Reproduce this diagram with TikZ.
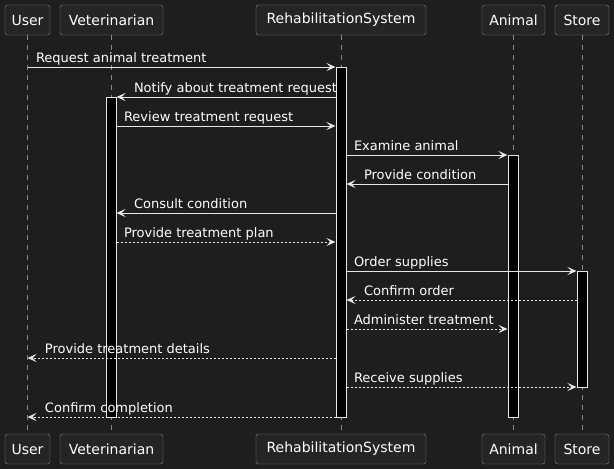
\documentclass[tikz,border=0pt]{standalone}
\usepackage{fontspec}
\setmainfont{DejaVu Sans}
\usetikzlibrary{arrows.meta}
\definecolor{bgcol}{HTML}{1E1E1E}
\definecolor{boxcol}{HTML}{252525}
\definecolor{edgecol}{HTML}{8A8A8A}
\definecolor{linecol}{HTML}{E6E6E6}
\tikzset{
	part/.style = {draw = edgecol, fill = boxcol, rounded corners = 2.5pt, minimum height = 30pt, inner sep = 0pt, text = white, font = \fontsize{14}{16}\selectfont},
	life/.style = {draw = edgecol, dash pattern = on 5pt off 5pt, line width = 0.6pt},
	act/.style = {draw = linecol, fill = black, minimum width = 10pt, inner sep = 0pt, anchor = north, line width = 1pt},
	msg/.style = {draw = linecol, line width = 1pt, -{Stealth[length=9pt, width=8pt, inset=4pt]}},
	reply/.style = {msg, dash pattern = on 2pt off 2pt},
	lbl/.style = {text = white, font = \fontsize{13}{15}\selectfont, inner sep = 0pt, anchor = base west, yshift = 5pt}
}

\begin{document}
\begin{tikzpicture}[x = 1pt, y = -1pt]

	\fill [bgcol] (0,0) rectangle (614,469);

	\node (userTop)[part, minimum width = 45pt] at (27.5,20) {User};
	\node (vetTop)[part, minimum width = 103pt] at (111.5,20) {Veterinarian};
	\node (rehabTop)[part, minimum width = 170pt] at (341,20) {RehabilitationSystem};
	\node (animalTop)[part, minimum width = 63pt] at (513.5,20) {Animal};
	\node (storeTop)[part, minimum width = 54pt] at (582,20) {Store};

	\node (userBot)[part, minimum width = 45pt] at (27.5,449) {User};
	\node (vetBot)[part, minimum width = 103pt] at (111.5,449) {Veterinarian};
	\node (rehabBot)[part, minimum width = 170pt] at (341,449) {RehabilitationSystem};
	\node (animalBot)[part, minimum width = 63pt] at (513.5,449) {Animal};
	\node (storeBot)[part, minimum width = 54pt] at (582,449) {Store};

	\draw [life](userTop)--(userBot);
	\draw [life](vetTop)--(vetBot);
	\draw [life](rehabTop)--(rehabBot);
	\draw [life](animalTop)--(animalBot);
	\draw [life](storeTop)--(storeBot);

	\node (rehabAct)[act, minimum height = 350pt] at (341,67) {};
	\node (vetAct)[act, minimum height = 320pt] at (111,97) {};
	\node (animalAct)[act, minimum height = 262pt] at (513,155) {};
	\node (storeAct)[act, minimum height = 116pt] at (582,271) {};

	\coordinate (m1) at (0,67);
	\coordinate (m2) at (0,97);
	\coordinate (m3) at (0,126);
	\coordinate (m4) at (0,155);
	\coordinate (m5) at (0,184);
	\coordinate (m6) at (0,213);
	\coordinate (m7) at (0,242);
	\coordinate (m8) at (0,271);
	\coordinate (m9) at (0,300);
	\coordinate (m10) at (0,329);
	\coordinate (m11) at (0,358);
	\coordinate (m12) at (0,387);
	\coordinate (m13) at (0,417);

	\draw [msg](userTop.south |- m1)--(rehabAct.west |- m1) node[lbl, pos = 0, xshift = 8pt] {Request animal treatment};
	\draw [msg](rehabAct.west |- m2)--(vetAct.east |- m2) node[lbl, pos = 1, xshift = 17pt] {Notify about treatment request};
	\draw [msg](vetAct.east |- m3)--(rehabAct.west |- m3) node[lbl, pos = 0, xshift = 7pt] {Review treatment request};
	\draw [msg](rehabAct.east |- m4)--(animalAct.west |- m4) node[lbl, pos = 0, xshift = 7pt] {Examine animal};
	\draw [msg](animalAct.west |- m5)--(rehabAct.east |- m5) node[lbl, pos = 1, xshift = 17pt] {Provide condition};
	\draw [msg](rehabAct.west |- m6)--(vetAct.east |- m6) node[lbl, pos = 1, xshift = 17pt] {Consult condition};
	\draw [reply](vetAct.east |- m7)--(rehabAct.west |- m7) node[lbl, pos = 0, xshift = 7pt] {Provide treatment plan};
	\draw [msg](rehabAct.east |- m8)--(storeAct.west |- m8) node[lbl, pos = 0, xshift = 7pt] {Order supplies};
	\draw [reply](storeAct.west |- m9)--(rehabAct.east |- m9) node[lbl, pos = 1, xshift = 17pt] {Confirm order};
	\draw [reply](rehabAct.east |- m10)--(animalAct.west |- m10) node[lbl, pos = 0, xshift = 7pt] {Administer treatment};
	\draw [reply](rehabAct.west |- m11)--(userTop.south |- m11) node[lbl, pos = 1, xshift = 17pt] {Provide treatment details};
	\draw [reply](rehabAct.east |- m12)--(storeAct.west |- m12) node[lbl, pos = 0, xshift = 7pt] {Receive supplies};
	\draw [reply](rehabAct.west |- m13)--(userTop.south |- m13) node[lbl, pos = 1, xshift = 17pt] {Confirm completion};
\end{tikzpicture}
\end{document}
